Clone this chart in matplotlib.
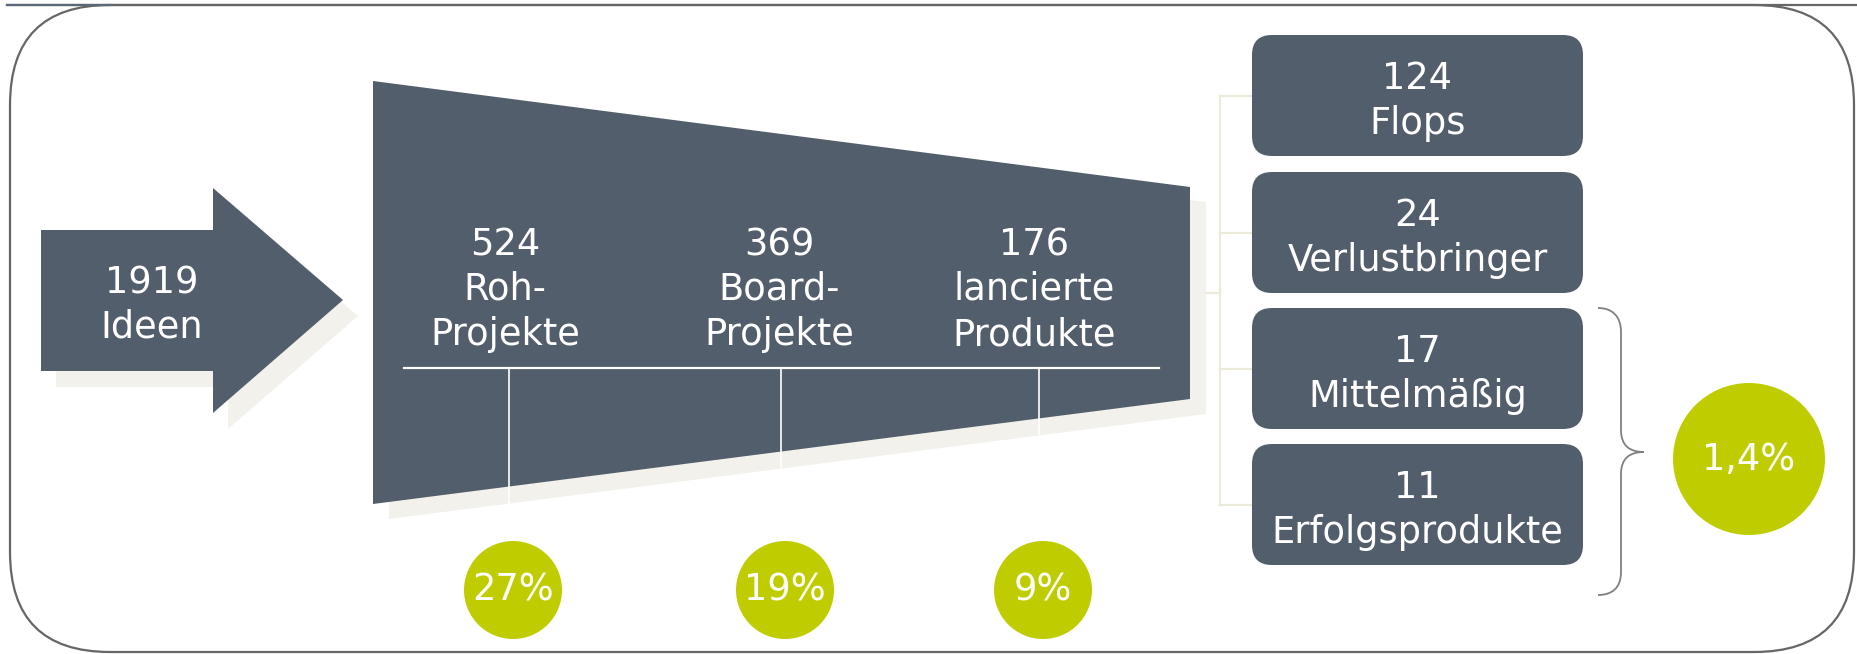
import numpy as np
import matplotlib
matplotlib.use("Agg")
import matplotlib.pyplot as plt
from matplotlib.patches import Polygon, Circle, FancyBboxPatch, PathPatch
from matplotlib.path import Path

# data
idea_count = 1919
idea_label = "Ideen"
stage_counts = [524, 369, 176]
stage_labels = [["Roh-", "Projekte"], ["Board-", "Projekte"], ["lancierte", "Produkte"]]
stage_shares = ["27%", "19%", "9%"]
outcome_counts = [124, 24, 17, 11]
outcome_labels = ["Flops", "Verlustbringer", "Mittelmäßig", "Erfolgsprodukte"]
success_share = "1,4%"

dark = "#525e6b"
green = "#bfcd00"
shadow = "#f2f1eb"
connector = "#ecead9"
fs = 26.5

fig = plt.figure(figsize=(18.57, 6.54), dpi=100)
ax = fig.add_axes([0, 0, 1, 1])
ax.set_xlim(0, 1857)
ax.set_ylim(654, 0)
ax.axis("off")

# outer frame + top rule
frame = FancyBboxPatch((10, 5), 1844, 647, boxstyle="round,pad=0,rounding_size=100",
                       fc="white", ec="#666666", lw=1.6, zorder=0)
ax.add_patch(frame)
ax.plot([7, 1857], [5, 5], color="#666666", lw=1.6, zorder=1)
ax.plot([7, 110], [5, 5], color="#5a6877", lw=1.6, zorder=1)

# arrow with shadow
arrow = np.array([[41, 230], [213, 230], [213, 188], [343, 300],
                  [213, 413], [213, 371], [41, 371]])
ax.add_patch(Polygon(arrow + [15, 16], closed=True, fc=shadow, ec="none", zorder=2))
ax.add_patch(Polygon(arrow, closed=True, fc=dark, ec="none", zorder=3))
ax.text(152, 293, str(idea_count), color="white", fontsize=fs, ha="center", va="baseline", zorder=5)
ax.text(152, 337, idea_label, color="white", fontsize=fs, ha="center", va="baseline", zorder=5)

# funnel with shadow
fx = [373, 1190]
top = [81, 187]
bot = [504, 399]
funnel = np.array([[fx[0], top[0]], [fx[1], top[1]], [fx[1], bot[1]], [fx[0], bot[0]]])
ax.add_patch(Polygon(funnel + [16, 15], closed=True, fc=shadow, ec="none", zorder=2))
ax.add_patch(Polygon(funnel, closed=True, fc=dark, ec="none", zorder=3))

stage_x = [505, 779, 1034]
tick_x = [509, 781, 1039]
line_y = 368
ax.plot([404, 1159], [line_y, line_y], color="white", lw=1.6, zorder=4)
for tx in tick_x:
    yb = np.interp(tx, fx, bot) + 17
    ax.plot([tx, tx], [line_y, yb], color="white", lw=1.2, zorder=4)

for x, n, lab in zip(stage_x, stage_counts, stage_labels):
    ax.text(x, 255, str(n), color="white", fontsize=fs, ha="center", va="baseline", zorder=5)
    ax.text(x, 299, lab[0], color="white", fontsize=fs, ha="center", va="baseline", zorder=5)
    ax.text(x, 345, lab[1], color="white", fontsize=fs, ha="center", va="baseline", zorder=5)

for x, s in zip(tick_x, stage_shares):
    ax.add_patch(Circle((x + 4, 590), 49, fc=green, ec="none", zorder=3))
    ax.text(x + 4, 590, s, color="white", fontsize=fs, ha="center", va="center", zorder=5)

# connectors to outcome boxes
box_top = [35, 172, 308, 444]
box_h = 121
box_x0, box_x1 = 1252, 1583
centers = [t + box_h / 2 for t in box_top]
ax.plot([1190, 1220], [293, 293], color=connector, lw=1.6, zorder=1)
ax.plot([1220, 1220], [centers[0], centers[-1]], color=connector, lw=1.6, zorder=1)
for c in centers:
    ax.plot([1220, box_x0], [c, c], color=connector, lw=1.6, zorder=1)

for t, n, lab in zip(box_top, outcome_counts, outcome_labels):
    ax.add_patch(FancyBboxPatch((box_x0, t), box_x1 - box_x0, box_h,
                                boxstyle="round,pad=0,rounding_size=20",
                                fc=dark, ec="none", zorder=3))
    xc = (box_x0 + box_x1) / 2
    ax.text(xc, t + 54, str(n), color="white", fontsize=fs, ha="center", va="baseline", zorder=5)
    ax.text(xc, t + 99, lab, color="white", fontsize=fs, ha="center", va="baseline", zorder=5)

# curly brace
verts = [(1598, 308), (1612, 308), (1621, 316), (1621, 332),
         (1621, 430),
         (1621, 446), (1630, 452), (1644, 452),
         (1630, 452), (1621, 458), (1621, 474),
         (1621, 572),
         (1621, 588), (1612, 595), (1598, 595)]
codes = [Path.MOVETO, Path.CURVE4, Path.CURVE4, Path.CURVE4,
         Path.LINETO,
         Path.CURVE4, Path.CURVE4, Path.CURVE4,
         Path.CURVE4, Path.CURVE4, Path.CURVE4,
         Path.LINETO,
         Path.CURVE4, Path.CURVE4, Path.CURVE4]
ax.add_patch(PathPatch(Path(verts, codes), fc="none", ec="#808080", lw=1.3, zorder=3))

ax.add_patch(Circle((1749, 459), 76, fc=green, ec="none", zorder=3))
ax.text(1749, 460, success_share, color="white", fontsize=fs, ha="center", va="center", zorder=5)

fig.savefig("out.png", dpi=100)
